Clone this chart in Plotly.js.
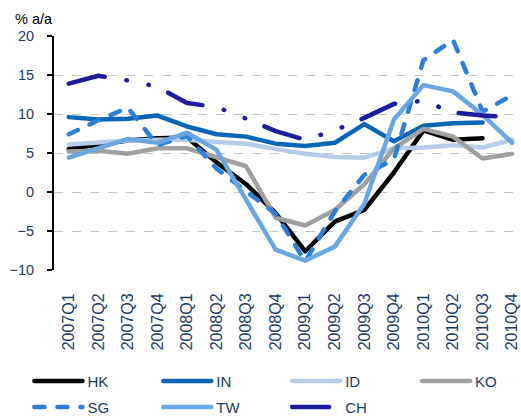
<!DOCTYPE html>
<html>
<head>
<meta charset="utf-8">
<script src="https://cdn.plot.ly/plotly-3.0.1.min.js"></script>
<style>
  html, body { margin: 0; padding: 0; background: #ffffff; }
  #chart { width: 521px; height: 416px; }
</style>
</head>
<body>
<div id="chart"></div>
<script>
// Quarterly real GDP growth, % year on year
const quarters = ['2007Q1','2007Q2','2007Q3','2007Q4','2008Q1','2008Q2','2008Q3','2008Q4',
                  '2009Q1','2009Q2','2009Q3','2009Q4','2010Q1','2010Q2','2010Q3','2010Q4'];

const seriesNames = ['HK', 'IN', 'ID', 'KO', 'SG', 'TW', 'CH'];

const hk = [5.5, 6.0, 6.6, 6.9, 7.0, 3.8, 1.0, -2.7, -7.6, -3.8, -2.3, 2.5, 7.9, 6.7, 6.9, null];
const inn = [9.6, 9.3, 9.4, 9.8, 8.4, 7.4, 7.1, 6.2, 5.9, 6.3, 8.7, 6.5, 8.5, 8.8, 8.9, null];
const id = [6.1, 6.4, 6.6, 6.7, 6.7, 6.4, 6.2, 5.5, 4.9, 4.5, 4.4, 5.6, 5.7, 6.0, 5.7, 6.7];
const ko = [5.2, 5.3, 4.9, 5.6, 5.6, 4.4, 3.3, -3.3, -4.3, -2.3, 1.0, 5.6, 8.1, 7.1, 4.3, 4.9];
const sg = [7.4, 9.2, 10.8, 6.0, 7.2, 3.0, 0.1, -2.8, -8.9, -2.5, 2.2, 4.2, 16.9, 19.5, 10.3, 12.4];
const tw = [4.4, 5.6, 6.8, 6.3, 7.6, 5.4, -0.9, -7.4, -8.8, -7.0, -1.5, 9.3, 13.7, 12.9, 9.9, 6.3];
const ch = [13.9, 14.9, 14.3, 13.5, 11.4, 10.9, 9.4, 7.8, 6.7, 7.9, 9.5, 11.3, 11.7, 10.2, 9.8, 9.6];

const seriesValues = [hk, inn, id, ko, sg, tw, ch];
const seriesColors = ['#000000', '#0866b4', '#b7cce8', '#a0a0a0', '#2c7fd6', '#6aa6e2', '#1c1c9c'];
const seriesDash = ['solid', 'solid', 'solid', 'solid', '10px,13px', 'solid',
                    '37px,22px,0.5px,22px,0.5px,21px'];

const navy = '#1b3a66';
const font = 'Liberation Sans, Arial, sans-serif';

// plot area in pixels
const W = 521, H = 416;
const mL = 53.6, mR = 0, mT = 36.3, mB = 146;
const plotW = W - mL - mR, plotH = H - mT - mB;

// legend key grid: left edge of each key line and row centre, in pixels
const keyCols = [34, 163, 292, 422, 34, 163, 292];
const keyRows = [381, 381, 381, 381, 407, 407, 407];
const legendIds = seriesNames.map((n, i) => i === 0 ? 'legend' : 'legend' + (i + 1));

const traces = seriesNames.map((name, i) => ({
  type: 'scatter',
  mode: 'lines',
  name: name,
  legend: legendIds[i],
  x: quarters,
  y: seriesValues[i],
  connectgaps: false,
  line: { color: seriesColors[i], width: 4.5, dash: seriesDash[i] },
  hoverinfo: 'skip'
}));

// boundary ticks sit between quarters, on the zero line
const boundaryTicks = quarters.slice(1).map((q, i) => i + 0.5);
const xRange = [-0.5, 15.3];
const yRange = [-10, 20];

const layout = {
  width: W,
  height: H,
  margin: { l: mL, r: mR, t: mT, b: mB, autoexpand: false },
  paper_bgcolor: '#ffffff',
  plot_bgcolor: '#ffffff',
  font: { family: font, color: navy },
  showlegend: true,
  xaxis: {
    type: 'category',
    categoryorder: 'array',
    categoryarray: quarters,
    range: xRange,
    tickangle: -90,
    ticks: 'outside',
    ticklen: 16,
    tickcolor: 'rgba(0,0,0,0)',
    tickfont: { size: 16, color: navy, family: font },
    showline: false,
    showgrid: false,
    zeroline: false,
    automargin: false,
    fixedrange: true
  },
  xaxis2: {
    type: 'linear',
    overlaying: 'x',
    anchor: 'free',
    position: (0 - yRange[0]) / (yRange[1] - yRange[0]),
    range: xRange,
    tickmode: 'array',
    tickvals: boundaryTicks,
    ticks: 'outside',
    ticklen: 5,
    tickwidth: 2,
    tickcolor: '#000000',
    showticklabels: false,
    showline: true,
    linecolor: '#000000',
    linewidth: 2,
    showgrid: false,
    zeroline: false,
    automargin: false,
    fixedrange: true
  },
  yaxis: {
    range: yRange,
    dtick: 5,
    tick0: 0,
    ticks: 'outside',
    ticklen: 5,
    tickwidth: 2,
    tickcolor: '#000000',
    ticklabelstandoff: 10,
    tickfont: { size: 14.5, color: navy, family: font },
    showline: true,
    linecolor: '#000000',
    linewidth: 2,
    showgrid: true,
    gridcolor: '#c4c4c4',
    gridwidth: 1,
    griddash: 'dash',
    zeroline: false,
    automargin: false,
    fixedrange: true
  },
  annotations: [{
    text: '% a/a',
    xref: 'paper', yref: 'paper',
    x: -0.0875, y: 1 + (mT - 19.5) / plotH,
    xanchor: 'left', yanchor: 'middle',
    showarrow: false,
    font: { size: 14.5, color: '#000000', family: font }
  }]
};

// one small legend per series so the keys sit on a fixed grid
legendIds.forEach((lid, i) => {
  layout[lid] = {
    orientation: 'h',
    x: (keyCols[i] - 5 - mL) / plotW,
    xanchor: 'left',
    y: (H - mB - keyRows[i]) / plotH,
    yanchor: 'middle',
    itemwidth: 48,
    font: { size: 15, color: navy, family: font },
    bgcolor: 'rgba(0,0,0,0)',
    borderwidth: 0
  };
});

Plotly.newPlot('chart', traces, layout, { displayModeBar: false, staticPlot: true })
  .then(gd => {
    // rounded ends for the series strokes
    gd.querySelectorAll('.scatterlayer path.js-line, .legendlines path').forEach(p => {
      p.style.strokeLinecap = 'round';
      p.style.strokeLinejoin = 'round';
    });
  });
</script>
</body>
</html>
